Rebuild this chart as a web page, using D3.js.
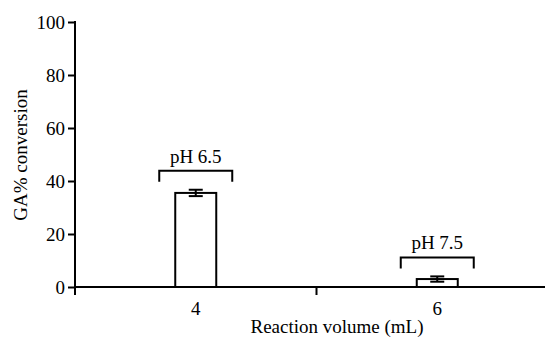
<!DOCTYPE html>
<html>
<head>
<meta charset="utf-8">
<script src="https://cdn.jsdelivr.net/npm/d3@7"></script>
<style>
  body { margin: 0; background: #fff; }
</style>
</head>
<body>
<svg width="545" height="337"></svg>
<script>
// chart data
var volumes = ["4", "6"];
var conversion = [35.5, 3.0];
var errors = [1.2, 1.0];
var phLabels = ["pH 6.5", "pH 7.5"];
var yTicks = [0, 20, 40, 60, 80, 100];

var fontSize = 19;
var barW = 41;

var svg = d3.select("svg"),
  margin = {left: 75, top: 22},
  plotBottom = 287;

var x = d3.scaleBand()
  .domain(volumes)
  .range([margin.left, 558]);

var y = d3.scaleLinear()
  .domain([0, 100])
  .range([plotBottom, margin.top]);

function label(sel) {
  sel.attr("font-family", "Liberation Serif")
    .attr("font-size", fontSize)
    .attr("fill", "#000");
}

// y axis
var yAxis = svg.append("g")
  .attr("transform", "translate(" + margin.left + ",0)")
  .call(d3.axisLeft(y).tickValues(yTicks).tickSize(7).tickPadding(3).tickSizeOuter(0));
yAxis.attr("font-family", null).attr("font-size", null);
yAxis.select(".domain").attr("stroke-width", 2).attr("d", "M0," + (y(100) - 1) + "V" + (y(0) + 8));
yAxis.selectAll(".tick line").attr("stroke-width", 2);
yAxis.selectAll(".tick text").call(label);

// x axis: the tick sits between the categories
var xAxis = svg.append("g")
  .attr("transform", "translate(0," + plotBottom + ")");
xAxis.append("line")
  .attr("x1", margin.left).attr("x2", 558)
  .attr("stroke", "#000").attr("stroke-width", 2);
xAxis.selectAll(".sep")
  .data(volumes.slice(1))
  .enter().append("line")
  .attr("x1", function(d) { return x(d); })
  .attr("x2", function(d) { return x(d); })
  .attr("y1", 0).attr("y2", 8)
  .attr("stroke", "#000").attr("stroke-width", 2);
xAxis.selectAll(".lbl")
  .data(volumes)
  .enter().append("text")
  .attr("x", function(d) { return x(d) + x.bandwidth() / 2; })
  .attr("y", 28)
  .attr("text-anchor", "middle")
  .call(label)
  .text(function(d) { return d; });

// bars
var bars = svg.append("g").selectAll("g")
  .data(volumes)
  .enter().append("g");

bars.append("rect")
  .attr("x", function(d) { return x(d) + x.bandwidth() / 2 - barW / 2; })
  .attr("y", function(d, i) { return y(conversion[i]); })
  .attr("width", barW)
  .attr("height", function(d, i) { return plotBottom - y(conversion[i]); })
  .attr("fill", "#fff")
  .attr("stroke", "#000")
  .attr("stroke-width", 2);

// error bars
bars.each(function(d, i) {
  var g = d3.select(this),
    cx = x(d) + x.bandwidth() / 2,
    hi = y(conversion[i] + errors[i]),
    lo = y(conversion[i] - errors[i]);
  g.append("line").attr("x1", cx).attr("x2", cx).attr("y1", hi).attr("y2", lo)
    .attr("stroke", "#000").attr("stroke-width", 2);
  [hi, lo].forEach(function(yy) {
    g.append("line").attr("x1", cx - 7).attr("x2", cx + 7).attr("y1", yy).attr("y2", yy)
      .attr("stroke", "#000").attr("stroke-width", 2);
  });
});

// pH brackets
var bracketW = 73;
bars.each(function(d, i) {
  var g = d3.select(this),
    cx = x(d) + x.bandwidth() / 2,
    top = y(conversion[i] + errors[i]) - 19;
  g.append("path")
    .attr("d", "M" + (cx - bracketW / 2) + "," + (top + 11) + "V" + top + "H" + (cx + bracketW / 2) + "V" + (top + 11))
    .attr("fill", "none").attr("stroke", "#000").attr("stroke-width", 2);
  g.append("text")
    .attr("x", cx)
    .attr("y", top - 8)
    .attr("text-anchor", "middle")
    .call(label)
    .text(phLabels[i]);
});

// axis titles
svg.append("text")
  .attr("x", 337)
  .attr("y", 333)
  .attr("text-anchor", "middle")
  .call(label)
  .text("Reaction volume (mL)");

svg.append("text")
  .attr("transform", "translate(27,155) rotate(-90)")
  .attr("text-anchor", "middle")
  .call(label)
  .text("GA% conversion");
</script>
</body>
</html>
